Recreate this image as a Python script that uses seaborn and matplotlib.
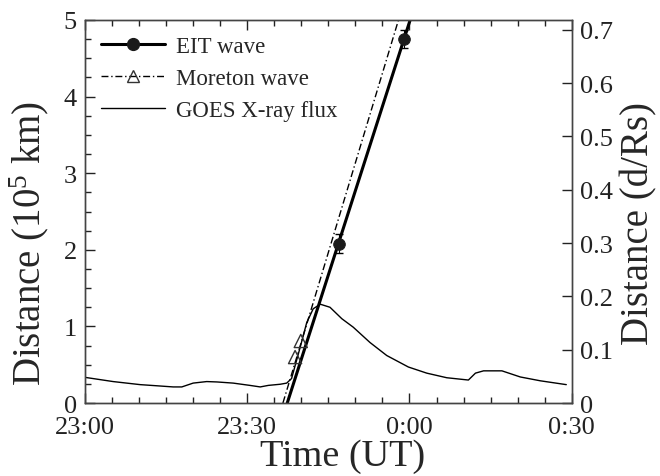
import matplotlib
matplotlib.use("Agg")
import matplotlib.pyplot as plt
from matplotlib.lines import Line2D
from matplotlib.ticker import MultipleLocator, FixedLocator, FuncFormatter
import numpy as np
import seaborn as sns

sns.set_style("ticks")
plt.rcParams["font.family"] = ["Liberation Serif", "DejaVu Serif"]
plt.rcParams["mathtext.fontset"] = "custom"
plt.rcParams["mathtext.rm"] = "Liberation Serif"
plt.rcParams["mathtext.it"] = "Liberation Serif:italic"
plt.rcParams["mathtext.bf"] = "Liberation Serif:bold"

# time in minutes after 23:00 UT
goes_t = [0, 5.2, 10.2, 13.3, 16.3, 17.9, 20.0, 22.5, 24.4, 27.4, 30.5, 32.4,
          33.9, 36.1, 37.3, 38.2, 39.8, 41.0, 42.2, 43.5, 45.3, 47.5, 49.6,
          52.7, 55.8, 59.8, 63.2, 66.9, 70.9, 72.2, 73.7, 77.1, 80.5, 84.2, 89.0]
goes_flux = [0.335, 0.28, 0.24, 0.225, 0.21, 0.21, 0.26, 0.28, 0.275, 0.26,
             0.23, 0.21, 0.23, 0.245, 0.26, 0.32, 0.73, 1.05, 1.23, 1.29, 1.25,
             1.10, 0.99, 0.79, 0.62, 0.47, 0.39, 0.33, 0.30, 0.39, 0.42, 0.42,
             0.34, 0.29, 0.24]

eit_t = [47.0, 58.9]
eit_d = [2.08, 4.75]
eit_err = [0.12, 0.12]
moreton_t = [38.85, 39.9]
moreton_d = [0.60, 0.81]

# linear fits: onset time (min) and speed (1e5 km per min)
eit_fit = (37.4, 0.22)
moreton_fit = (36.6, 0.234)

time_ticks = [0, 30, 60, 90]
time_labels = ["23:00", "23:30", "0:00", "0:30"]
RS = 6.96  # solar radius in 1e5 km


def fit_line(onset, speed, dmax=5.3):
    t = np.array([onset, onset + dmax / speed])
    return t, (t - onset) * speed


fig = plt.figure(figsize=(6.6, 4.77), dpi=100)
ax = fig.add_axes([0.1288, 0.153, 0.7374, 0.803])

sns.lineplot(x=goes_t, y=goes_flux, ax=ax, color="black", lw=1.0, sort=False)

t, d = fit_line(*moreton_fit)
sns.lineplot(x=t, y=d, ax=ax, color="black", lw=1.0, linestyle=(0, (5, 2, 1, 2)))
t, d = fit_line(*eit_fit)
sns.lineplot(x=t, y=d, ax=ax, color="black", lw=2.2)

ax.errorbar(eit_t, eit_d, yerr=eit_err, fmt="none", ecolor="black",
            elinewidth=0.8, capsize=3)
sns.scatterplot(x=eit_t, y=eit_d, ax=ax, color="#1a1a1a", s=70,
                marker="o", edgecolor="#1a1a1a", zorder=5)
sns.scatterplot(x=moreton_t, y=moreton_d, ax=ax, marker="^", s=90,
                facecolor="none", edgecolor="#333333", linewidth=1.0, zorder=5)

ax.set_xlim(0, 90)
ax.set_ylim(0, 5)
ax.xaxis.set_major_locator(FixedLocator(time_ticks))
ax.set_xticklabels(time_labels)
ax.xaxis.set_minor_locator(MultipleLocator(5))
ax.yaxis.set_major_locator(MultipleLocator(1))
ax.yaxis.set_minor_locator(MultipleLocator(0.25))
ax.yaxis.set_major_formatter(FuncFormatter(lambda v, p: f"{v:.0f}"))

ax.tick_params(which="both", direction="in", top=True, right=False,
               labelsize=19, colors="#222222", width=1.0, pad=6)
ax.tick_params(axis="x", which="both", pad=9)
ax.tick_params(which="major", length=7)
ax.tick_params(which="minor", length=4)

ax.set_xlabel("Time (UT)", fontsize=27.5)
ax.xaxis.set_label_coords(0.53, -0.092)
ax.set_ylabel(r"Distance (10$^5$ km)", fontsize=28)
ax.yaxis.set_label_coords(-0.07, 0.42)

ax2 = ax.twinx()
ax2.set_ylim(0, 5 / RS)
ax2.yaxis.set_major_locator(MultipleLocator(0.1))
ax2.yaxis.set_major_formatter(
    FuncFormatter(lambda v, p: "0" if abs(v) < 1e-9 else f"{v:.1f}"))
ax2.tick_params(which="both", direction="in", labelsize=19, colors="#222222",
                width=1.0, length=7, pad=6)
ax2.set_ylabel("Distance (d/Rs)", fontsize=28)
ax2.yaxis.set_label_coords(1.1, 0.47)

for a in (ax, ax2):
    for s in a.spines.values():
        s.set_color("#444444")
        s.set_linewidth(1.0)

handles = [
    Line2D([], [], color="black", lw=2.2, marker="o", markersize=8.5,
           markerfacecolor="#1a1a1a", markeredgecolor="#1a1a1a"),
    Line2D([], [], color="black", lw=1.0, linestyle=(0, (5, 2, 1, 2)),
           marker="^", markersize=9, markerfacecolor="none",
           markeredgecolor="#333333"),
    Line2D([], [], color="black", lw=1.0),
]
ax.legend(handles, ["EIT wave", "Moreton wave", "GOES X-ray flux"],
          loc="upper left", frameon=False, fontsize=16.5, handlelength=2.8,
          handletextpad=0.45, labelspacing=0.47, borderaxespad=0.3)

fig.savefig("out.png", dpi=100)
